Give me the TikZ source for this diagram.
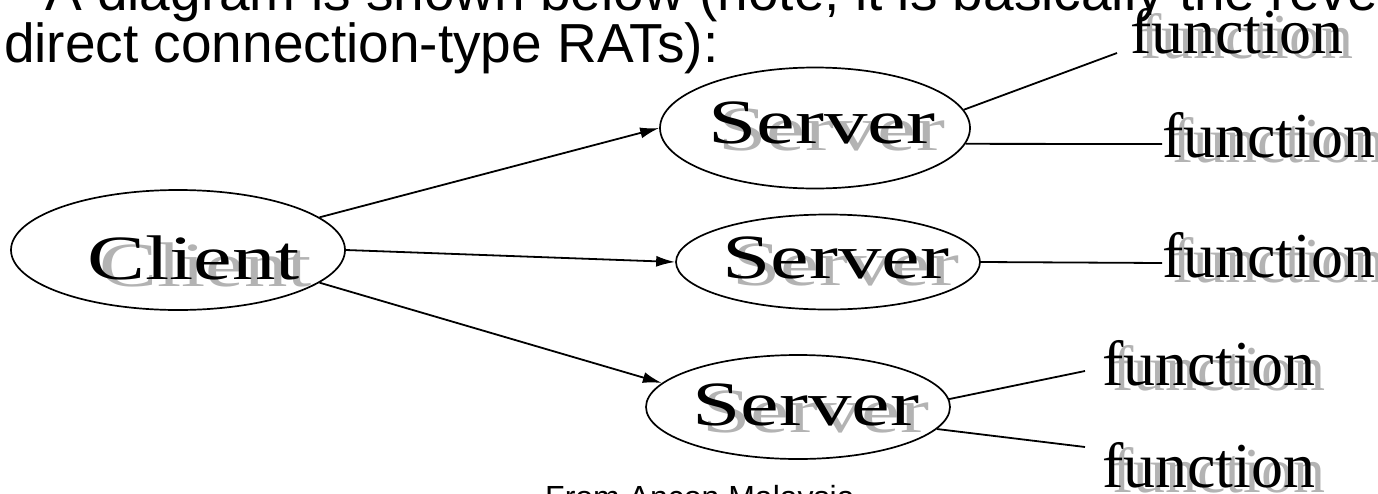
\documentclass[tikz,border=0pt]{standalone}
\usepackage{fontspec}
\setmainfont{Liberation Serif}
\newfontfamily\sansf{Liberation Sans}
\usetikzlibrary{shapes.geometric,arrows.meta,calc}
\definecolor{shadowgray}{HTML}{B3B3B3}
\begin{document}
\begin{tikzpicture}[x=1pt,y=-1pt,
  ell/.style={draw, ellipse, line width=1.7pt, inner sep=0pt},
  conn/.style={line width=1.8pt},
  arr/.style={conn, -{Latex[length=19pt,width=11pt]}},
  bigtxt/.style={inner sep=0pt, anchor=base west, font=\fontsize{63}{63}\selectfont},
  fntxt/.style={inner sep=0pt, anchor=base west, font=\fontsize{64}{64}\selectfont},
  sansline/.style={inner sep=0pt, anchor=base west, font=\sansf\fontsize{55}{55}\selectfont},
  smallsans/.style={inner sep=0pt, anchor=base west, font=\sansf\fontsize{32}{32}\selectfont},
  shd/.style={text=shadowgray}]
\useasboundingbox (0,0) rectangle (1378,493);
\clip (0,0) rectangle (1378,493);
% heading text (cut off by the frame)
\node[sansline] (h1) at (45,10) {A diagram is shown below (note, it is basically the reverse of};
\node[sansline] (h2) at (4,62) {direct connection-type RATs):};
\node[smallsans] (foot) at (545,508) {From Ancon Malaysia};
% ellipses
\node[ell, minimum width=334pt, minimum height=120pt] (client) at (178,250) {};
\node[ell, minimum width=310pt, minimum height=121pt] (s1) at (815,128) {};
\node[ell, minimum width=304pt, minimum height=95pt] (s2) at (828,262) {};
\node[ell, minimum width=304pt, minimum height=104pt] (s3) at (798,407) {};
% labels with shadows
\node[bigtxt, shd] (clientsh) at (99,286) {\scalebox{1.38}[1]{Client}};
\node[bigtxt] (clientt) at (87,279) {\scalebox{1.38}[1]{Client}};
\node[bigtxt, shd] (s1sh) at (718,150) {\scalebox{1.38}[1]{Server}};
\node[bigtxt] (s1t) at (708,143) {\scalebox{1.38}[1]{Server}};
\node[bigtxt, shd] (s2sh) at (732,285) {\scalebox{1.38}[1]{Server}};
\node[bigtxt] (s2t) at (722,278) {\scalebox{1.38}[1]{Server}};
\node[bigtxt, shd] (s3sh) at (702,432) {\scalebox{1.38}[1]{Server}};
\node[bigtxt] (s3t) at (692,425) {\scalebox{1.38}[1]{Server}};
% function labels
\node[fntxt, shd] (f1sh) at (1140,58) {function};
\node[fntxt] (f1) at (1130,53) {function};
\node[fntxt, shd] (f2sh) at (1172,162) {function};
\node[fntxt] (f2) at (1162,157) {function};
\node[fntxt, shd] (f3sh) at (1172,282) {function};
\node[fntxt] (f3) at (1162,277) {function};
\node[fntxt, shd] (f4sh) at (1112,390) {function};
\node[fntxt] (f4) at (1102,385) {function};
\node[fntxt, shd] (f5sh) at (1112,492) {function};
\node[fntxt] (f5) at (1102,487) {function};
% connectors
\draw[arr] (client.13) -- (s1.west);
\draw[arr] (client.east) -- (s2.west);
\draw[arr] (client.-13) -- (s3.170);
\draw[conn] (s1.7) -- ($(f1.base west)+(-13,0)$);
\draw[conn] (s1.-6) -- ($(f2.base west)+(0,-13)$);
\draw[conn] (s2.east) -- ($(f3.base west)+(0,-14)$);
\draw[conn] (s3.3) -- ($(f4.base west)+(-17,-14)$);
\draw[conn] (s3.-9) -- ($(f5.base west)+(-17,-40)$);
\end{tikzpicture}
\end{document}
